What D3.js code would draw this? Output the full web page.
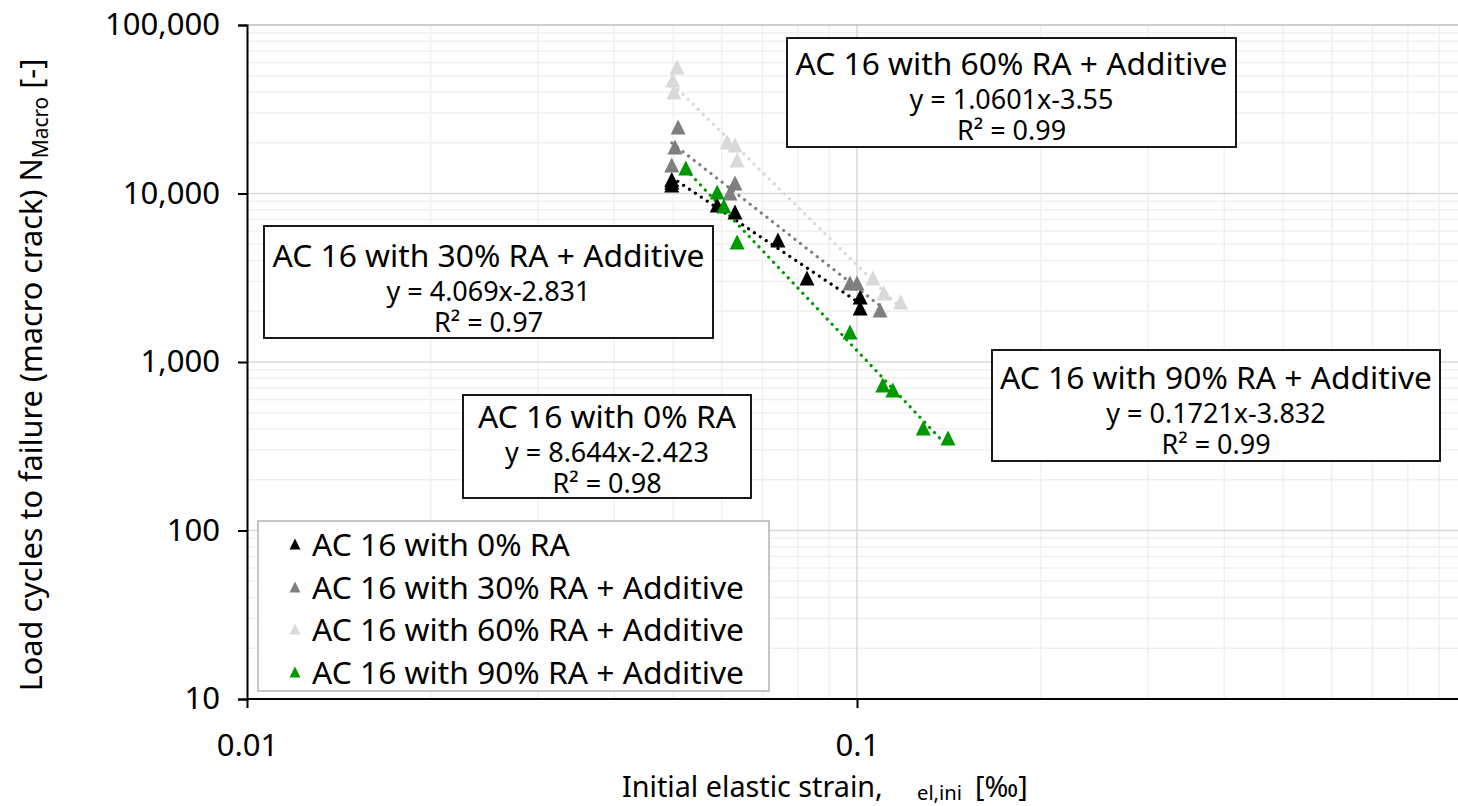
<!DOCTYPE html>
<html>
<head>
<meta charset="utf-8">
<script src="https://cdn.jsdelivr.net/npm/d3@7"></script>
<style>
  html, body { margin: 0; padding: 0; background: #fff; }
  svg { display: block; font-family: "Noto Sans", "DejaVu Sans", sans-serif; }
</style>
</head>
<body>
<svg id="chart" width="1458" height="806"></svg>
<script>
// ---------- data ----------
const seriesNames = ["AC 16 with 0% RA", "AC 16 with 30% RA + Additive", "AC 16 with 60% RA + Additive", "AC 16 with 90% RA + Additive"];
const seriesColors = ["#000000", "#7f7f7f", "#d9d9d9", "#009900"];

const strain0  = [0.0497, 0.0497, 0.0497, 0.0590, 0.0631, 0.0742, 0.0828, 0.1012, 0.1012];
const cycles0  = [12100, 11700, 11230, 8550, 7770, 5300, 3150, 2430, 2090];

const strain30 = [0.0509, 0.0503, 0.0497, 0.0631, 0.0619, 0.0974, 0.1000, 0.1091];
const cycles30 = [24800, 18880, 14760, 11540, 10070, 2940, 2940, 2035];

const strain60 = [0.0507, 0.0499, 0.0501, 0.0612, 0.0631, 0.0636, 0.1062, 0.1107, 0.1179];
const cycles60 = [56300, 47200, 40000, 20200, 19400, 15800, 3150, 2570, 2270];

const strain90 = [0.0524, 0.0590, 0.0605, 0.0636, 0.0974, 0.1102, 0.1145, 0.1284, 0.1410];
const cycles90 = [14170, 10200, 8430, 5150, 1506, 731, 682, 406, 354];

const trendA = [8.644, 4.069, 1.0601, 0.1721];
const trendB = [-2.423, -2.831, -3.55, -3.832];
const trendLabelA = ["8.644", "4.069", "1.0601", "0.1721"];
const trendLabelB = ["-2.423", "-2.831", "-3.55", "-3.832"];
const rSquared = ["0.98", "0.97", "0.99", "0.99"];

const xTicks = [0.01, 0.1];
const yTicks = [10, 100, 1000, 10000, 100000];

const xTitle = "Initial elastic strain,";
const xTitleSub = "el,ini";
const xTitleUnit = "[‰]";
const yTitle = "Load cycles to failure (macro crack) N";
const yTitleSub = "Macro";
const yTitleUnit = " [-]";

// ---------- layout ----------
const svg = d3.select("#chart");
const L = 247, T = 25, B = 699, R = 1467;
const x = d3.scaleLog().domain([0.01, 1]).range([L, R]);
const y = d3.scaleLog().domain([10, 100000]).range([B, T]);

const strains = [strain0, strain30, strain60, strain90];
const cycles = [cycles0, cycles30, cycles60, cycles90];
const data = seriesNames.map((name, i) => ({
  name, color: seriesColors[i], a: trendA[i], b: trendB[i],
  pts: strains[i].map((s, j) => ({ x: s, y: cycles[i][j] }))
}));

function fit(sel, width) {
  const w = sel.node().getComputedTextLength();
  const fs = parseFloat(sel.attr("font-size"));
  sel.attr("font-size", fs * width / w);
  return sel;
}

// custom triangle symbol (width = height)
const triType = {
  draw(ctx, size) {
    const h = Math.sqrt(size) / 2;
    ctx.moveTo(0, -h);
    ctx.lineTo(h, h);
    ctx.lineTo(-h, h);
    ctx.closePath();
  }
};

// ---------- grid ----------
const grid = svg.append("g");
const minorX = [], majorX = [0.1];
for (let d = 0.01; d < 1; d *= 10) {
  for (let k = 2; k <= 9; k++) minorX.push(d * k);
}
const minorY = [], majorY = [100, 1000, 10000];
for (let d = 10; d < 100000; d *= 10) {
  for (let k = 2; k <= 9; k++) minorY.push(d * k);
}
grid.selectAll(".mx").data(minorX).join("line")
  .attr("x1", d => x(d)).attr("x2", d => x(d)).attr("y1", T).attr("y2", B)
  .attr("stroke", "#f0f0f0").attr("stroke-width", 1.5);
grid.selectAll(".my").data(minorY).join("line")
  .attr("x1", L).attr("x2", 1458).attr("y1", d => y(d)).attr("y2", d => y(d))
  .attr("stroke", "#f0f0f0").attr("stroke-width", 1.5);
grid.selectAll(".Mx").data(majorX).join("line")
  .attr("x1", d => x(d)).attr("x2", d => x(d)).attr("y1", T).attr("y2", B)
  .attr("stroke", "#d9d9d9").attr("stroke-width", 1.5);
grid.selectAll(".My").data(majorY).join("line")
  .attr("x1", L).attr("x2", 1458).attr("y1", d => y(d)).attr("y2", d => y(d))
  .attr("stroke", "#d9d9d9").attr("stroke-width", 1.5);
grid.append("line").attr("x1", L).attr("x2", 1458).attr("y1", y(100000)).attr("y2", y(100000))
  .attr("stroke", "#bfbfbf").attr("stroke-width", 1.5);

// ---------- axes ----------
const yAxis = svg.append("g").attr("transform", `translate(${L},0)`)
  .call(d3.axisLeft(y).tickValues(yTicks).tickFormat(d3.format(",")).tickSize(9).tickPadding(18));
const xAxis = svg.append("g").attr("transform", `translate(0,${B})`)
  .call(d3.axisBottom(x).tickValues(xTicks).tickFormat(d => String(d)).tickSize(9).tickPadding(26));
[yAxis, xAxis].forEach(g => {
  g.select(".domain").attr("stroke", "#000").attr("stroke-width", 2);
  g.selectAll(".tick line").attr("stroke", "#000").attr("stroke-width", 2);
  g.selectAll(".tick text").attr("font-size", 26).attr("fill", "#000")
    .attr("font-family", "'Noto Sans', sans-serif");
});
xAxis.select(".domain").attr("d", `M${L},0H1458`);
fit(yAxis.selectAll(".tick text").filter(d => d === 100000), 115);
const ytfs = yAxis.selectAll(".tick text").filter(d => d === 100000).attr("font-size");
yAxis.selectAll(".tick text").attr("font-size", ytfs);
xAxis.selectAll(".tick text").attr("font-size", ytfs);

// ---------- trendlines ----------
const line = d3.line().x(d => x(d.x)).y(d => y(d.y));
data.forEach(s => {
  const xs = s.pts.map(p => p.x);
  const x0 = d3.min(xs), x1 = d3.max(xs);
  const tp = d3.range(0, 21).map(k => {
    const xv = x0 * Math.pow(x1 / x0, k / 20);
    return { x: xv, y: s.a * Math.pow(xv, s.b) };
  });
  svg.append("path").datum(tp).attr("d", line)
    .attr("fill", "none").attr("stroke", s.color).attr("stroke-width", 3.2)
    .attr("stroke-linecap", "round").attr("stroke-dasharray", "0.1 7");
});

// ---------- markers ----------
const tri = d3.symbol().type(triType).size(225);
data.forEach(s => {
  svg.append("g").selectAll("path").data(s.pts).join("path")
    .attr("d", tri)
    .attr("transform", d => `translate(${x(d.x)},${y(d.y)})`)
    .attr("fill", s.color);
});

// ---------- equation boxes ----------
const boxes = [
  { i: 2, x0: 787, y0: 38, x1: 1236, y1: 147, t: 24 },
  { i: 1, x0: 264, y0: 226, x1: 713, y1: 338, t: 28 },
  { i: 0, x0: 463, y0: 395, x1: 751, y1: 498, t: 20 },
  { i: 3, x0: 992, y0: 350, x1: 1440, y1: 461, t: 26 }
];
let titleFs = null, eqFs = null;
boxes.forEach(bx => {
  const g = svg.append("g");
  const cx = (bx.x0 + bx.x1) / 2;
  g.append("rect").attr("x", bx.x0).attr("y", bx.y0)
    .attr("width", bx.x1 - bx.x0).attr("height", bx.y1 - bx.y0)
    .attr("fill", "#fff").attr("stroke", "#000").attr("stroke-width", 1.8);
  const t1 = g.append("text").attr("x", cx).attr("y", bx.y0 + bx.t)
    .attr("text-anchor", "middle").attr("dominant-baseline", "central")
    .attr("font-size", 28).attr("fill", "#000").text(seriesNames[bx.i]);
  if (titleFs === null) { fit(t1, 432); titleFs = t1.attr("font-size"); }
  t1.attr("font-size", titleFs);
  const t2 = g.append("text").attr("x", cx).attr("y", bx.y0 + bx.t + 36)
    .attr("text-anchor", "middle").attr("dominant-baseline", "central")
    .attr("font-size", 22).attr("fill", "#000")
    .text(`y = ${trendLabelA[bx.i]}x${trendLabelB[bx.i]}`);
  if (eqFs === null) { fit(t2, 204); eqFs = t2.attr("font-size"); }
  t2.attr("font-size", eqFs);
  g.append("text").attr("x", cx).attr("y", bx.y0 + bx.t + 67)
    .attr("text-anchor", "middle").attr("dominant-baseline", "central")
    .attr("font-size", eqFs).attr("fill", "#000")
    .text(`R² = ${rSquared[bx.i]}`);
});

// ---------- legend ----------
const lg = svg.append("g");
lg.append("rect").attr("x", 258).attr("y", 521).attr("width", 511).attr("height", 170)
  .attr("fill", "#fff").attr("stroke", "#bfbfbf").attr("stroke-width", 1.8);
const rowY = [543, 586, 628, 671];
const ltri = d3.symbol().type(triType).size(121);
data.forEach((s, i) => {
  lg.append("path").attr("d", ltri)
    .attr("transform", `translate(295,${rowY[i] + 1})`).attr("fill", s.color);
  lg.append("text").attr("x", 312).attr("y", rowY[i]).attr("dominant-baseline", "central")
    .attr("font-size", titleFs).attr("fill", "#000").text(s.name);
});

// ---------- axis titles ----------
const xt1 = svg.append("text").attr("x", 622).attr("y", 785).attr("dominant-baseline", "central")
  .attr("font-size", 26).attr("fill", "#000").text(xTitle);
fit(xt1, 261);
const xt2 = svg.append("text").attr("x", 917).attr("y", 792).attr("dominant-baseline", "central")
  .attr("font-size", 18).attr("fill", "#000").text(xTitleSub);
fit(xt2, 45);
svg.append("text").attr("x", 975).attr("y", 785).attr("dominant-baseline", "central")
  .attr("font-size", xt1.attr("font-size")).attr("fill", "#000").text(xTitleUnit);

const yt = svg.append("text")
  .attr("transform", "translate(42,375) rotate(-90)")
  .attr("text-anchor", "middle").attr("font-size", 26).attr("fill", "#000");
yt.append("tspan").text(yTitle);
yt.append("tspan").attr("font-size", 18).attr("dy", 6).text(yTitleSub);
yt.append("tspan").attr("dy", -6).text(yTitleUnit);
fit(yt, 634);
yt.select("tspan:nth-child(2)").attr("font-size", parseFloat(yt.attr("font-size")) * 0.68);
</script>
</body>
</html>
